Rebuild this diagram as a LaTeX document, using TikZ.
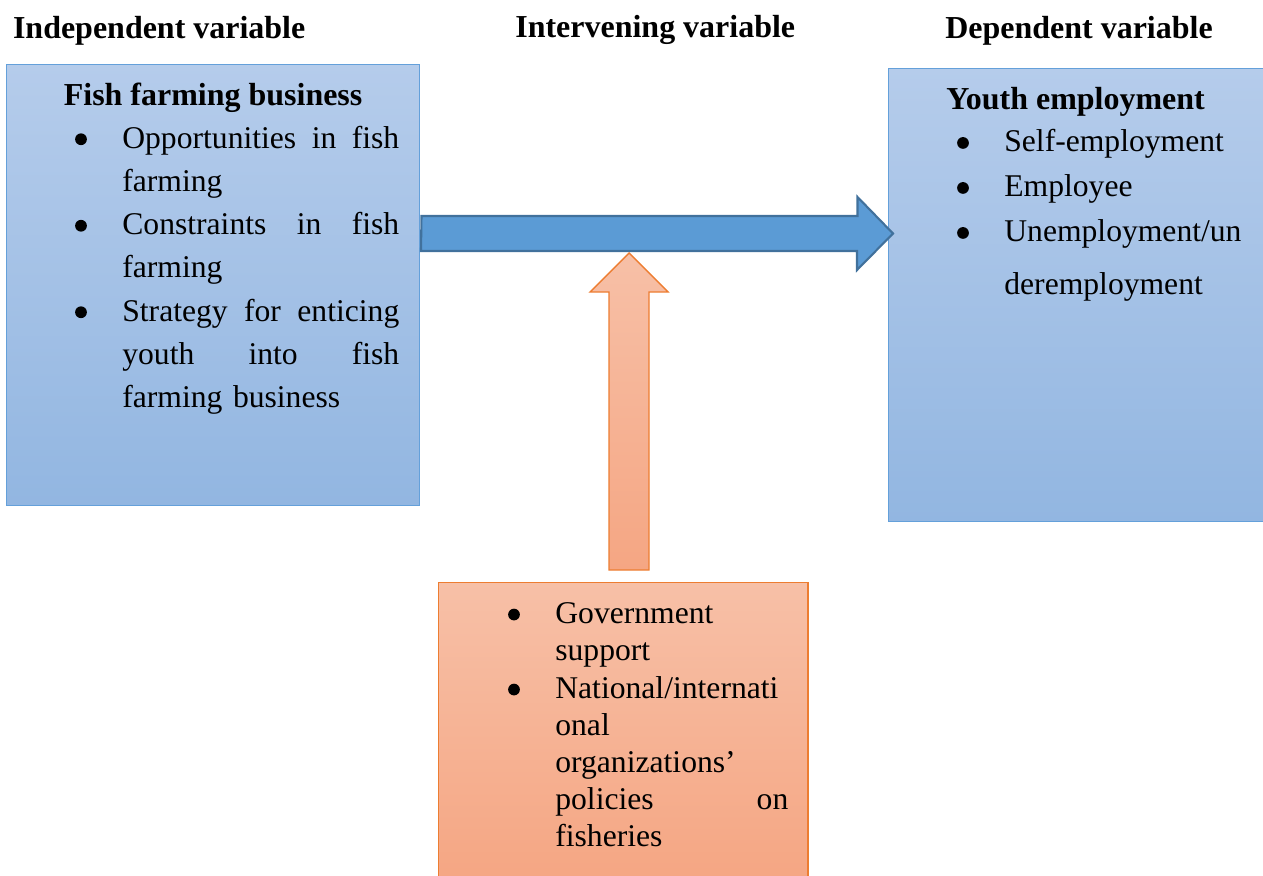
\documentclass[tikz,border=0pt]{standalone}
\usepackage{fontspec}
\setmainfont{Liberation Serif}
\usepackage{xcolor}
\usepackage{tikz}
\definecolor{boxtop}{RGB}{181,204,235}
\definecolor{boxbot}{RGB}{146,182,225}
\definecolor{boxline}{RGB}{100,160,218}
\definecolor{arrfill}{RGB}{91,155,213}
\definecolor{arrline}{RGB}{65,113,156}
\definecolor{orgtop}{RGB}{247,192,167}
\definecolor{orgbot}{RGB}{245,166,131}
\definecolor{orgline}{RGB}{237,125,49}

\begin{document}
\begin{tikzpicture}[
	x=0.02cm, y=-0.02cm,
	font=\fontsize{18}{24.55}\selectfont
]
\tikzset{
    bluebox/.style = {rectangle, draw=boxline, line width=0.6pt, top color=boxtop, bottom color=boxbot, inner sep=0pt},
    orangebox/.style = {rectangle, draw=orgline, line width=0.6pt, top color=orgtop, bottom color=orgbot, inner sep=0pt},
    heading/.style = {anchor=base west, inner sep=0pt, font=\fontsize{18.2}{22}\selectfont\bfseries},
    item/.style = {anchor=base west, inner sep=0pt, align=left},
    dot/.style = {circle, fill=black, inner sep=0pt, minimum size=0.235cm, yshift=0.175cm},
    bluearrow/.style = {draw=arrline, line width=1.2pt, fill=arrfill, line join=miter},
    orangearrow/.style = {draw=orgline, line width=0.8pt, top color=orgtop, bottom color=orgbot, line join=miter}
}
\useasboundingbox (0,0) rectangle (1263,875);

\node[bluebox, minimum width=8.28cm, minimum height=8.84cm] (indep) at (213,285) {};
\node[bluebox, minimum width=7.56cm, minimum height=9.08cm] (dep) at (1077,295) {};
\node[orangebox, minimum width=7.4cm, minimum height=5.96cm] (interv) at (623,731) {};

\node[heading] (hind) at (12.7,38.5) {Independent variable};
\node[heading] (hint) at (515,37.5) {Intervening variable};
\node[heading] (hdep) at (945,38.5) {Dependent variable};

\node[heading] (tfish) at (63.5,105.5) {Fish farming business};
\node[dot] (b1) at (81,148) {};
\node[item, text width=5.54cm] (opp) at (122,148) {\makebox[5.54cm][s]{Opportunities\hfill in\hfill fish}\\farming};
\node[dot] (b2) at (81,234.5) {};
\node[item, text width=5.54cm] (con) at (122,234.5) {\makebox[5.54cm][s]{Constraints\hfill in\hfill fish}\\farming};
\node[dot] (b3) at (81,321) {};
\node[item, text width=5.54cm] (str) at (122,321) {\makebox[5.54cm][s]{Strategy\hfill for\hfill enticing}\\\makebox[5.54cm][s]{youth\hfill into\hfill fish}\\farming business};

\node[heading] (tyouth) at (946,109.7) {Youth employment};
\node[dot] (b4) at (963,151.7) {};
\node[item, text width=5.2cm] (self) at (1004,151.7) {Self-employment};
\node[dot] (b5) at (963,196.7) {};
\node[item, text width=5.2cm] (empl) at (1004,196.7) {Employee};
\node[dot] (b6) at (963,241.7) {};
\node[item, text width=5.2cm, font=\fontsize{18}{30.2}\selectfont] (unem) at (1004,241.7) {Unemployment/un\\deremployment};

\node[dot] (b7) at (514,623.3) {};
\node[item, text width=4.66cm, font=\fontsize{18}{21.1}\selectfont] (gov) at (555,623.3) {Government\\support};
\node[dot] (b8) at (514,698.3) {};
\node[item, text width=4.66cm, font=\fontsize{18}{21.1}\selectfont] (nat) at (555,698.3) {National/internati\\onal\\organizations’\\\makebox[4.66cm][s]{policies\hfill on}\\fisheries};

\coordinate (fromind) at (indep.east |- 0,233.5);
\coordinate (todep) at (893,233.5);
\draw[bluearrow] (fromind) ++(1,-17.5) -- ++(436,0) -- ++(0,-19) -- (todep) -- ++(-36,36.5) -- ++(0,-19) -- ++(-436,0) -- cycle;

\coordinate (fromint) at (629,570);
\coordinate (toarr) at (629,253);
\draw[orangearrow] (fromint) ++(-20,0) -- ++(0,-278) -- ++(-19,0) -- (toarr) -- ++(39,39) -- ++(-19,0) -- ++(0,278) -- cycle;
\end{tikzpicture}
\end{document}
